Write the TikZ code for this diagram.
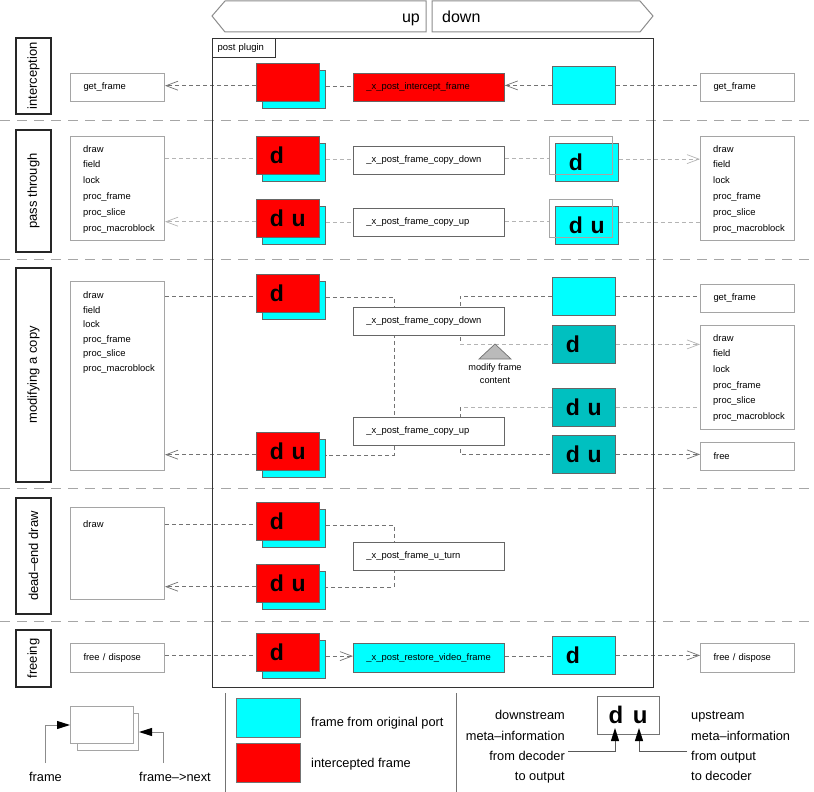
\documentclass[tikz,border=0pt]{standalone}
\usepackage{fontspec}
\setmainfont{Liberation Sans}
\usetikzlibrary{calc}
\usetikzlibrary{arrows.meta}
\usetikzlibrary{backgrounds}
\definecolor{origcyan}{RGB}{0,255,255}
\definecolor{intred}{RGB}{255,0,0}
\definecolor{copyteal}{RGB}{0,192,192}
\definecolor{boxgray}{RGB}{165,165,165}
\definecolor{darkdash}{RGB}{115,115,115}
\definecolor{lightdash}{RGB}{180,180,180}
\tikzstyle{sepline}=[draw=black!35, line width=1pt, dash pattern=on 10pt off 7pt]
\tikzstyle{seclabel}=[draw=black!85, line width=1.1pt, rotate=90, minimum height=35pt, inner sep=0pt, font=\fontsize{13}{15}\selectfont]
\tikzstyle{fnbox}=[draw=boxgray, fill=white, line width=1pt, anchor=north west, text width=68pt, inner xsep=13pt, inner ysep=0pt, align=left, font=\fontsize{9.4}{11}\selectfont]
\tikzstyle{fntext}=[inner sep=0pt, anchor=base west, font=\fontsize{9.4}{11}\selectfont]
\tikzstyle{callbox}=[draw=black!60, fill=white, line width=0.8pt, anchor=north west, text width=125pt, inner xsep=13pt, inner ysep=0pt, minimum height=28pt, align=left, font=\fontsize{9.4}{11}\selectfont]
\tikzstyle{frm}=[draw=black!60, line width=0.8pt, anchor=north west, text width=36pt, inner xsep=13.5pt, inner ysep=0pt, minimum height=38pt, align=left, font=\bfseries\fontsize{23}{23}\selectfont]
\tikzstyle{conn}=[draw=darkdash, line width=0.8pt, dash pattern=on 4pt off 3pt]
\tikzstyle{connl}=[conn, draw=lightdash]
\tikzstyle{openarr}=[-{Straight Barb[length=12pt,width=9pt,line width=0.7pt]}]
\tikzstyle{legbox}=[draw=boxgray, fill=white, line width=1pt, anchor=north west, inner sep=0pt]
\tikzstyle{legarr}=[draw=black!45, line width=1pt, -{Triangle[length=13pt,width=8pt,color=black]}]
\tikzstyle{legtext}=[inner sep=0pt, font=\fontsize{12.8}{15}\selectfont]
\newcommand{\redstack}[4]{% name, top left corner of the red frame, meta-information
  \node[frm, fill=origcyan] (#1b) at (#2+6,#3+7) {};
  \node[frm, fill=intred] (#1) at (#2,#3) {#4};
  \coordinate (#1l) at ($(#1.west)+(0,3.3)$);
  \coordinate (#1r) at ($(#1b.east)+(0,-3.3)$);
}
\newcommand{\passframe}[4]{% name, top left corner of the cyan frame, meta-information
  \node[frm, fill=origcyan] (#1) at (#2,#3) {#4};
  \node[frm, draw=boxgray, line width=1pt] (#1o) at (#2-6,#3-7) {};
  \coordinate (#1l) at ($(#1o.west)+(0,3.3)$);
  \coordinate (#1r) at ($(#1.east)+(0,-3.3)$);
}
\newcommand{\calllist}[4]{% name, x, first baseline, line distance
  \foreach \fn [count=\i] in {draw,field,lock,proc\_frame,proc\_slice,proc\_macroblock}
    \node[fntext] (#1\i) at (#2,#3+#4*\i-#4) {\fn};
}
\begin{document}
\begin{tikzpicture}[x=1pt, y=-1pt]
\useasboundingbox (0,0) rectangle (814,792);
% direction of the frames
\draw[draw=black!45, line width=1pt] (212,16) -- (225,1) -- (426,1) -- (426,32) -- (225,32) -- cycle;
\draw[draw=black!45, line width=1pt] (432,1) -- (640,1) -- (653,16) -- (640,32) -- (432,32) -- cycle;
\node[anchor=base east, inner sep=0pt, font=\fontsize{16}{18}\selectfont] (uptxt) at (420,23) {up};
\node[anchor=base west, inner sep=0pt, font=\fontsize{16}{18}\selectfont] (downtxt) at (442,23) {down};
% the plugin
\node[draw=black!80, line width=1.2pt, anchor=north west, minimum width=441pt, minimum height=649pt] (plugin) at (212,38) {};
\node[draw=black!80, line width=1pt, anchor=north west, text width=53pt, inner xsep=5pt, minimum height=19pt, inner ysep=0pt, align=left, font=\fontsize{9.5}{11}\selectfont] (pp) at (212,38) {post plugin};
% sections
\node[seclabel, minimum width=76pt] (sint) at (33.5,76) {interception};
\node[seclabel, minimum width=122pt] (spass) at (33.5,191) {pass through};
\node[seclabel, minimum width=214pt] (smod) at (33.5,375) {modifying a copy};
\node[seclabel, minimum width=116pt] (sdead) at (33.5,556) {dead--end draw};
\node[seclabel, minimum width=57pt] (sfree) at (33.5,658.5) {freeing};
% callers downstream
\node[fnbox, minimum height=28pt] (lget) at (70,73) {get\_frame};
\node[fnbox, minimum height=104pt] (lpass) at (70,136) {};
\calllist{lpass}{83}{152}{15.8}
\node[fnbox, minimum height=189pt] (lmod) at (70,281) {};
\calllist{lmod}{83}{298.5}{14.5}
\node[fnbox, minimum height=92pt] (ldead) at (70,507) {};
\node[fntext] (ldead1) at (83,527) {draw};
\node[fnbox, minimum height=29pt] (lfree) at (70,643) {free / dispose};
% callees upstream
\node[fnbox, minimum height=28pt] (rget) at (700,73) {get\_frame};
\node[fnbox, minimum height=104pt] (rpass) at (700,136) {};
\calllist{rpass}{713}{152}{15.8}
\node[fnbox, minimum height=28pt] (rmodget) at (700,284) {get\_frame};
\node[fnbox, minimum height=104pt] (rmodlist) at (700,325) {};
\calllist{rmodlist}{713}{341}{15.7}
\node[fnbox, minimum height=28pt] (rmodfree) at (700,442) {free};
\node[fnbox, minimum height=29pt] (rfree) at (700,643) {free / dispose};
% intercepted frames
\redstack{rf1}{256}{63}{}
\redstack{rf2}{256}{136}{d}
\redstack{rf3}{256}{199}{d u}
\redstack{rf4}{256}{274}{d}
\redstack{rf5}{256}{432}{d u}
\redstack{rf6}{256}{502}{d}
\redstack{rf7}{256}{564}{d u}
\redstack{rf8}{256}{633}{d}
% plugin functions
\node[callbox, fill=intred] (mint) at (353,73) {\_x\_post\_intercept\_frame};
\node[callbox] (mdown) at (353,146) {\_x\_post\_frame\_copy\_down};
\node[callbox] (mup) at (353,208) {\_x\_post\_frame\_copy\_up};
\node[callbox] (mmdown) at (353,307) {\_x\_post\_frame\_copy\_down};
\node[callbox] (mmup) at (353,417) {\_x\_post\_frame\_copy\_up};
\node[callbox] (muturn) at (353,542) {\_x\_post\_frame\_u\_turn};
\node[callbox, fill=origcyan, minimum height=29pt] (mrestore) at (353,643) {\_x\_post\_restore\_video\_frame};
% frames of the original port
\node[frm, fill=origcyan] (rc1) at (552,66) {};
\passframe{rc2}{555}{143}{d}
\passframe{rc3}{555}{206}{d u}
\node[frm, fill=origcyan] (rc4) at (552,277) {};
\node[frm, fill=copyteal] (rt1) at (552,325) {d};
\node[frm, fill=copyteal] (rt2) at (552,388) {d u};
\node[frm, fill=copyteal] (rt3) at (552,435) {d u};
\node[frm, fill=origcyan] (rc5) at (552,636) {d};
\coordinate (mjl) at (394,375);
\coordinate (mjr) at (460,375);
\coordinate (djl) at (394,556);
% modify marker
\filldraw[fill=black!27, draw=black!55, line width=0.7pt] (479,359) -- (495,344) -- (511,359) -- cycle;
\node[anchor=north, align=center, inner sep=0pt, font=\fontsize{9.2}{13}\selectfont] (modtxt) at (495,364) {modify frame\\content};
\begin{pgfonlayer}{background}
\foreach \y in {120,259,488,621}
  \draw[sepline] (0,\y) -- (814,\y);
% interception
\draw[conn, openarr] (rf1l) -- (lget.east |- rf1l);
\draw[conn] (rf1r) -- (mint.west |- rf1r);
\draw[conn, openarr] (rc1.west) -- (mint.east |- rc1.west);
\draw[conn] (rc1.east) -- (rget.west |- rc1.east);
% pass through
\draw[connl] (lpass.east |- rf2l) -- (rf2l);
\draw[connl] (rf2r) -- (mdown.west |- rf2r);
\draw[connl] (mdown.east |- rc2l) -- (rc2l);
\draw[connl, openarr] (rc2r) -- (rpass.west |- rc2r);
\draw[connl, openarr] (rf3l) -- (lpass.east |- rf3l);
\draw[connl] (rf3r) -- (mup.west |- rf3r);
\draw[connl] (mup.east |- rc3l) -- (rc3l);
\draw[connl] (rc3r) -- (rpass.west |- rc3r);
% modifying a copy
\draw[conn] (lmod.east |- rf4l) -- (rf4l);
\draw[conn] (rf4r) -- (mjl |- rf4r) -- (mjl |- rf5r) -- (rf5r);
\draw[conn, openarr] (rf5l) -- (lmod.east |- rf5l);
\draw[conn] (rc4.west) -- (mjr |- rc4.west) -- (mjr |- rt1.west);
\draw[connl] (mjr |- rt1.west) -- (rt1.west);
\draw[connl] (rt2.west) -- (mjr |- rt2.west);
\draw[conn] (mjr |- rt2.west) -- (mjr |- rt3.west) -- (rt3.west);
\draw[conn] (rc4.east) -- (rmodget.west |- rc4.east);
\draw[connl, openarr] (rt1.east) -- (rmodlist.west |- rt1.east);
\draw[connl] (rt2.east) -- (rmodlist.west |- rt2.east);
\draw[conn, openarr] (rt3.east) -- (rmodfree.west |- rt3.east);
% dead-end draw
\draw[conn] (ldead.east |- rf6l) -- (rf6l);
\draw[conn] (rf6r) -- (djl |- rf6r) -- (djl |- rf7r) -- (rf7r);
\draw[conn, openarr] (rf7l) -- (ldead.east |- rf7l);
% freeing
\draw[conn] (lfree.east |- rf8l) -- (rf8l);
\draw[conn, openarr] (rf8r) -- (mrestore.west |- rf8r);
\draw[conn] (mrestore.east |- rf8r) -- (rc5.west |- rf8r);
\draw[conn, openarr] (rc5.east) -- (rfree.west |- rc5.east);
\end{pgfonlayer}
% legend
\draw[draw=black!55, line width=1pt] (225,693) -- (225,792);
\draw[draw=black!55, line width=1pt] (456,693) -- (456,792);
\node[legbox, minimum width=61pt, minimum height=37pt] (lgback) at (77,713) {};
\node[legbox, minimum width=63pt, minimum height=37pt] (lgfront) at (70,706) {};
\coordinate (lgfa) at (45,763);
\coordinate (lgfb) at (163,763);
\draw[legarr] (lgfa) -- (lgfa |- lgfront.west) -- (lgfront.west);
\draw[legarr] (lgfb) -- (lgfb |- lgback.east) -- (lgback.east);
\node[legtext, anchor=base] (lgframe) at (45.5,781) {frame};
\node[legtext, anchor=base] (lgnext) at (175,781) {frame-->next};
\node[legbox, fill=origcyan, draw=black!55, minimum width=64pt, minimum height=39pt] (lgcyan) at (236,698) {};
\node[legbox, fill=intred, draw=black!55, minimum width=64pt, minimum height=39pt] (lgred) at (236,743) {};
\node[legtext, anchor=base west] (lgcyantxt) at (311,726.5) {frame from original port};
\node[legtext, anchor=base west] (lgredtxt) at (311,767.5) {intercepted frame};
\node[draw=black!55, line width=1pt, minimum width=62pt, minimum height=38pt, inner sep=0pt, font=\bfseries\fontsize{24}{24}\selectfont] (lgdu) at (628,715) {d\hspace{0.4em}u};
\foreach \fn [count=\i] in {downstream, meta--information, from decoder, to output}
  \node[legtext, anchor=base east] (lgd\i) at (565,699.5+20.3*\i) {\fn};
\foreach \fn [count=\i] in {upstream, meta--information, from output, to decoder}
  \node[legtext, anchor=base west] (lgu\i) at (691,699.5+20.3*\i) {\fn};
\coordinate (lgda) at (568,751);
\coordinate (lgdt) at (615,728);
\coordinate (lgua) at (687,751);
\coordinate (lgut) at (639,728);
\draw[legarr, draw=black!65] (lgda) -- (lgdt |- lgda) -- (lgdt);
\draw[legarr, draw=black!65] (lgua) -- (lgut |- lgua) -- (lgut);
\end{tikzpicture}
\end{document}
